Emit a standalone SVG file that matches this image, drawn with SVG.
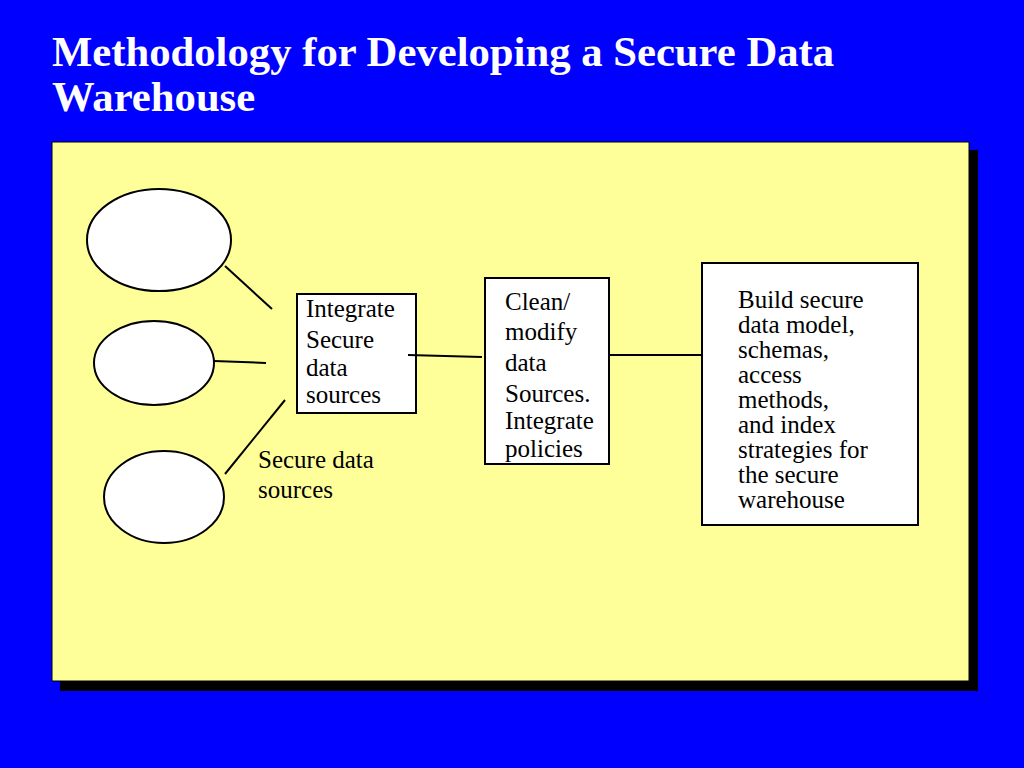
<svg xmlns="http://www.w3.org/2000/svg" width="1024" height="768" viewBox="0 0 1024 768">
<style>
.title{font-family:"Liberation Serif",serif;font-weight:bold;font-size:42.7px;fill:#FFFFFF}
.body{font-family:"Liberation Serif",serif;font-size:25px;fill:#000000}
.shape{fill:#FFFFFF;stroke:#000000;stroke-width:2}
.conn{stroke:#000000;stroke-width:2}
</style>
<rect x="0" y="0" width="1024" height="768" fill="#0000FF"/>
<text class="title" font-family="Liberation Serif, serif" x="52" y="66">Methodology for Developing a Secure Data</text>
<text class="title" font-family="Liberation Serif, serif" x="52" y="111">Warehouse</text>
<rect x="60" y="150" width="918" height="541" fill="#000000"/>
<rect x="52" y="142" width="917" height="539" fill="#FFFF99" stroke="#000000" stroke-width="1"/>
<g id="src1"><ellipse class="shape" cx="159" cy="240" rx="72" ry="51"/></g>
<g id="src2"><ellipse class="shape" cx="154" cy="363" rx="60" ry="42"/></g>
<g id="src3"><ellipse class="shape" cx="164" cy="497" rx="60" ry="46"/></g>
<g id="label-sources" class="body" font-family="Liberation Serif, serif" font-size="25">
<text x="258" y="468">Secure data</text>
<text x="258" y="498">sources</text>
</g>
<g id="integrate">
<rect class="shape" x="297" y="294" width="119" height="119"/>
<g class="body" font-family="Liberation Serif, serif" font-size="25">
<text x="306" y="317">Integrate</text>
<text x="306" y="348">Secure</text>
<text x="306" y="376">data</text>
<text x="306" y="403">sources</text>
</g>
</g>
<g id="clean">
<rect class="shape" x="485" y="278" width="124" height="186"/>
<g class="body" font-family="Liberation Serif, serif" font-size="25">
<text x="505" y="310">Clean/</text>
<text x="505" y="340">modify</text>
<text x="505" y="371">data</text>
<text x="505" y="402">Sources.</text>
<text x="505" y="429">Integrate</text>
<text x="505" y="457">policies</text>
</g>
</g>
<g id="build">
<rect class="shape" x="702" y="263" width="216" height="262"/>
<g class="body" font-family="Liberation Serif, serif" font-size="25">
<text x="738" y="308">Build secure</text>
<text x="738" y="333">data model,</text>
<text x="738" y="358">schemas,</text>
<text x="738" y="383">access</text>
<text x="738" y="408">methods,</text>
<text x="738" y="433">and index</text>
<text x="738" y="458">strategies for</text>
<text x="738" y="483">the secure</text>
<text x="738" y="508">warehouse</text>
</g>
</g>
<g id="connectors" class="conn">
<line x1="225" y1="266" x2="272" y2="309"/>
<line x1="214" y1="361" x2="266" y2="363"/>
<line x1="225" y1="474" x2="285" y2="400"/>
<line x1="408" y1="355" x2="482" y2="357"/>
<line x1="609" y1="355" x2="702" y2="355"/>
</g>
</svg>
